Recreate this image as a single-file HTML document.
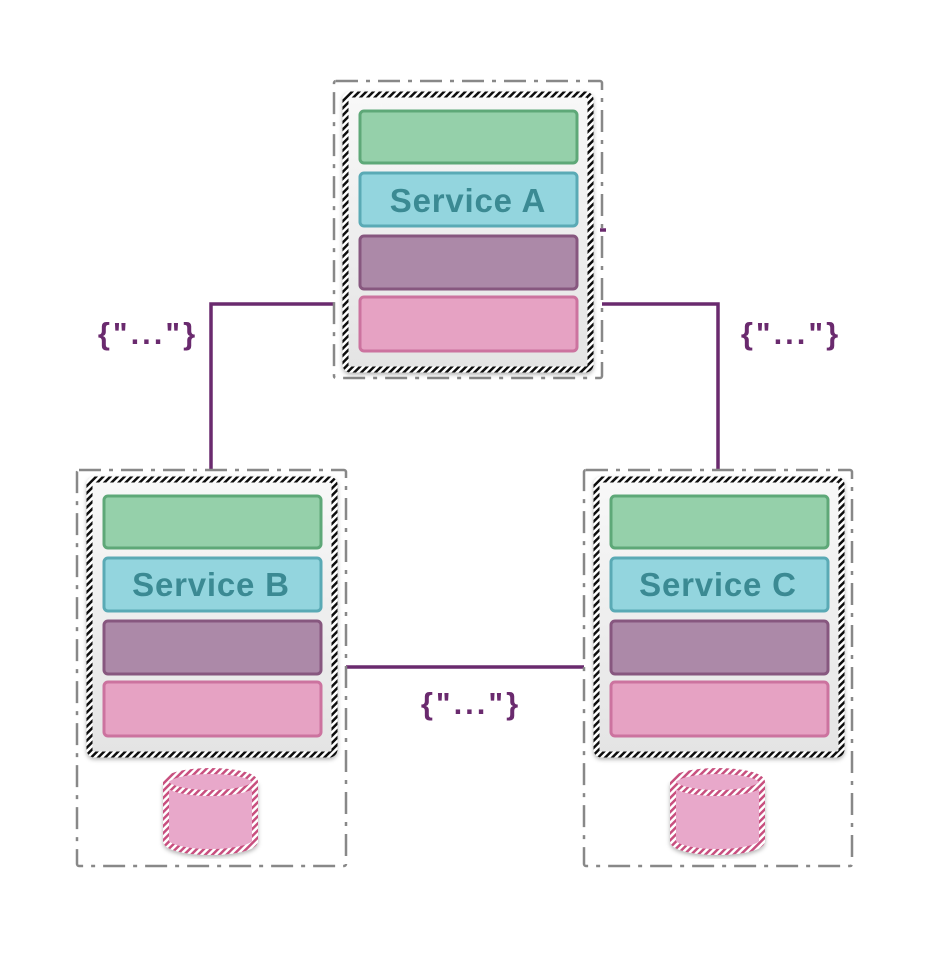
<!DOCTYPE html>
<html><head><meta charset="utf-8"><style>
html,body{margin:0;padding:0;background:#fff;}
svg{display:block;}
</style></head><body>
<svg width="937" height="975" viewBox="0 0 937 975" xmlns="http://www.w3.org/2000/svg">
<defs>
  <pattern id="hatch" width="5" height="5" patternUnits="userSpaceOnUse" patternTransform="rotate(45)">
    <rect width="5" height="5" fill="#fff"/>
    <rect width="2.5" height="5" fill="#111"/>
  </pattern>
  <pattern id="phatch" width="5" height="5" patternUnits="userSpaceOnUse" patternTransform="rotate(45)">
    <rect width="5" height="5" fill="#fff"/>
    <rect width="2.5" height="5" fill="#c8507f"/>
  </pattern>
  <filter id="sh" x="-10%" y="-10%" width="120%" height="120%">
    <feDropShadow dx="0" dy="2" stdDeviation="2" flood-color="#000" flood-opacity="0.3"/>
  </filter>
  <linearGradient id="bg" x1="0" y1="0" x2="0" y2="1">
    <stop offset="0" stop-color="#f8f8f8"/><stop offset="1" stop-color="#e4e4e4"/>
  </linearGradient>
  <g id="stack">
    <rect x="2.5" y="2.5" width="245" height="275" rx="5" fill="url(#bg)" stroke="url(#hatch)" stroke-width="6" filter="url(#sh)"/>
    <rect x="17" y="19" width="217" height="52" rx="4" fill="#95d0aa" stroke="#5ea878" stroke-width="3"/>
    <rect x="17" y="81" width="217" height="53" rx="4" fill="#93d5de" stroke="#5aaab5" stroke-width="3"/>
    <rect x="17" y="144" width="217" height="53" rx="4" fill="#ac89a8" stroke="#87577f" stroke-width="3"/>
    <rect x="17" y="205" width="217" height="54" rx="4" fill="#e6a2c3" stroke="#cc739f" stroke-width="3"/>
  </g>
  <g id="cyl">
    <path d="M3,14 L3,73 A44.5,11 0 0 0 92,73 L92,14" fill="#e8a8ca" stroke="url(#phatch)" stroke-width="6" filter="url(#sh)"/>
    <ellipse cx="47.5" cy="14" rx="44.5" ry="11" fill="#e8a8ca" stroke="url(#phatch)" stroke-width="6"/>
  </g>
</defs>

<g fill="none" stroke="#6a2a6e" stroke-width="3.5">
  <polyline points="334,304 211,304 211,470"/>
  <polyline points="602,304 718,304 718,470"/>
  <line x1="346" y1="667" x2="584" y2="667"/>
  <line x1="600" y1="230" x2="606" y2="230"/>
</g>

<g fill="none" stroke="#888" stroke-width="2.5" stroke-dasharray="22,8,4,8">
  <rect x="334" y="81" width="268" height="297" rx="2"/>
  <rect x="77" y="470" width="269" height="396" rx="2"/>
  <rect x="584" y="470" width="268" height="396" rx="2"/>
</g>

<use href="#stack" x="343" y="92"/>
<use href="#stack" x="87" y="477"/>
<use href="#stack" x="594" y="477"/>
<use href="#cyl" x="163" y="768"/>
<use href="#cyl" x="670" y="768"/>

<g font-family="Liberation Sans, sans-serif" font-weight="bold" font-size="33" fill="#3b8a93" text-anchor="middle" letter-spacing="0.8">
  <text x="468" y="212">Service A</text>
  <text x="211" y="596">Service B</text>
  <text x="718" y="596">Service C</text>
</g>
<g font-family="Liberation Sans, sans-serif" font-weight="bold" font-size="31" fill="#6a2a6e" text-anchor="middle" letter-spacing="3">
  <text x="148" y="344">{"..."}</text>
  <text x="791" y="344">{"..."}</text>
  <text x="471" y="714">{"..."}</text>
</g>
</svg>
</body></html>
